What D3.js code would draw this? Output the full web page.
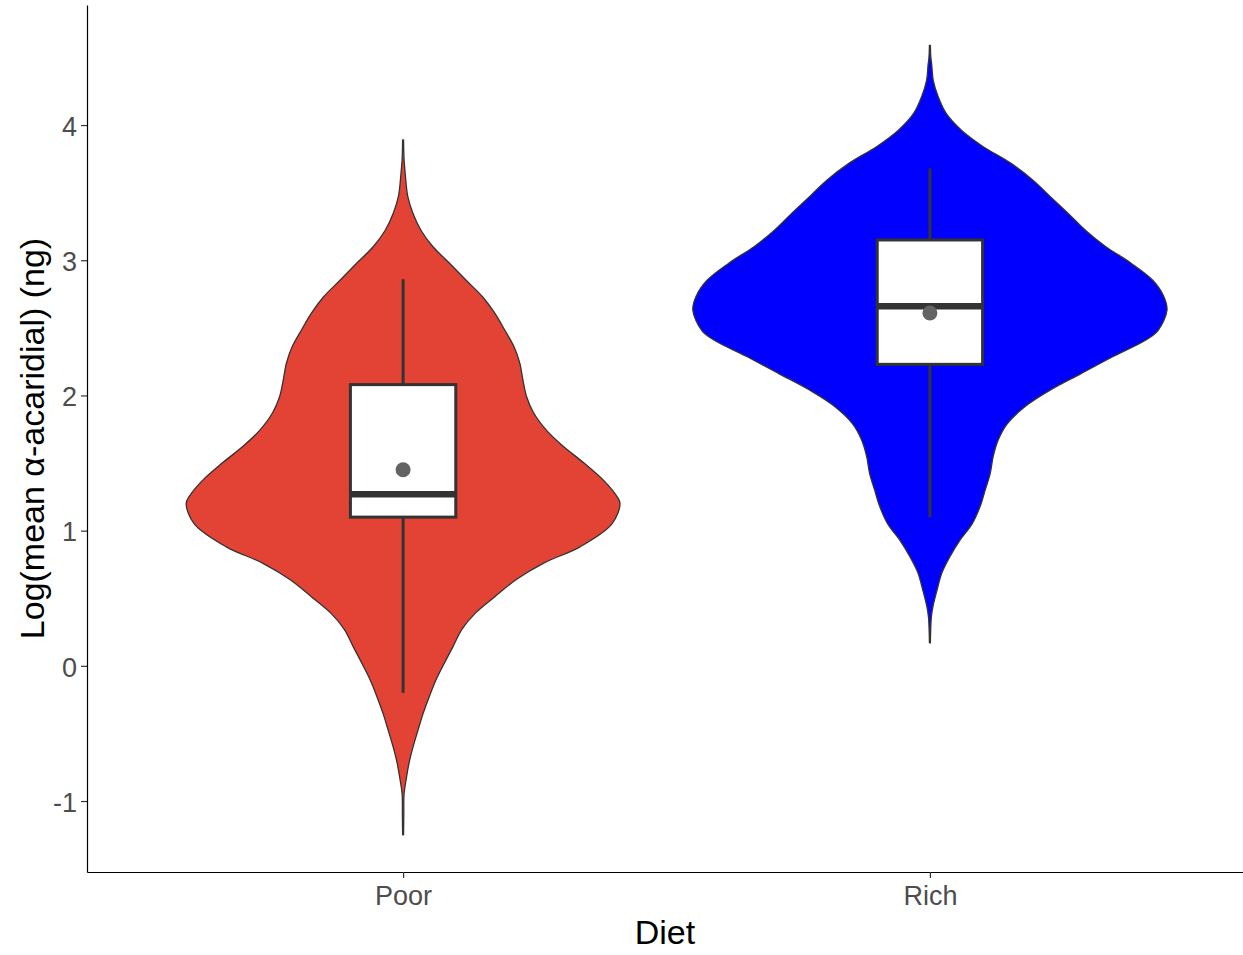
<!DOCTYPE html>
<html>
<head>
<meta charset="utf-8">
<script src="https://cdn.jsdelivr.net/npm/d3@7"></script>
<style>
  html, body { margin: 0; padding: 0; background: #ffffff; }
  svg { display: block; font-family: "Liberation Sans", Arial, sans-serif; }
</style>
</head>
<body>
<svg id="chart" width="1243" height="955"></svg>
<script>
// Diet groups
const categories = ["Poor", "Rich"];
const fillColors = ["#E24334", "#0000FF"];

// Kernel density profiles (log value, relative density)
const poorY = [3.89, 3.75, 3.64, 3.47, 3.35, 3.22, 3.10, 2.98, 2.85, 2.73, 2.61, 2.48, 2.36, 2.24, 2.11, 1.99, 1.87, 1.74, 1.62, 1.50, 1.37, 1.25, 1.20, 1.05, 0.88, 0.76, 0.64, 0.51, 0.39, 0.27, 0.14, 0.02, -0.10, -0.23, -0.35, -0.47, -0.60, -0.72, -0.84, -0.95, -1.10, -1.25];
const poorDensity = [0.002, 0.004, 0.009, 0.020, 0.041, 0.076, 0.126, 0.195, 0.267, 0.335, 0.386, 0.430, 0.468, 0.492, 0.506, 0.521, 0.551, 0.606, 0.678, 0.763, 0.847, 0.903, 0.915, 0.881, 0.746, 0.593, 0.479, 0.386, 0.305, 0.248, 0.210, 0.174, 0.140, 0.110, 0.085, 0.064, 0.042, 0.025, 0.013, 0.004, 0.003, 0.002];

const richY = [4.59, 4.50, 4.44, 4.33, 4.21, 4.08, 3.96, 3.84, 3.72, 3.59, 3.47, 3.35, 3.22, 3.10, 2.98, 2.85, 2.73, 2.63, 2.48, 2.41, 2.29, 2.16, 2.04, 1.92, 1.79, 1.67, 1.55, 1.42, 1.30, 1.18, 1.05, 0.93, 0.81, 0.69, 0.56, 0.44, 0.36, 0.25, 0.17];
const richDensity = [0.002, 0.004, 0.008, 0.014, 0.035, 0.071, 0.134, 0.225, 0.339, 0.436, 0.508, 0.581, 0.657, 0.742, 0.847, 0.941, 0.987, 1.000, 0.962, 0.911, 0.775, 0.636, 0.508, 0.403, 0.326, 0.288, 0.267, 0.254, 0.233, 0.212, 0.178, 0.127, 0.085, 0.051, 0.030, 0.013, 0.006, 0.003, 0.002];

// Box plot summaries per group
const whiskerLow = [-0.20, 1.10];
const q1 = [1.10, 2.23];
const median = [1.27, 2.66];
const q3 = [2.08, 3.15];
const whiskerHigh = [2.86, 3.68];
const means = [1.45, 2.61];

// Axis ticks
const yTicks = [-1, 0, 1, 2, 3, 4];

const profiles = [
  poorY.map((v, i) => ({ v, d: poorDensity[i] })),
  richY.map((v, i) => ({ v, d: richDensity[i] }))
];

const svg = d3.select("#chart");
const panel = { left: 87, right: 1246, top: 5, bottom: 872 };

const x = d3.scalePoint()
  .domain(categories)
  .range([panel.left, panel.right])
  .padding(0.6);

const y = d3.scaleLinear()
  .domain([-1.525, 4.888])
  .range([panel.bottom, panel.top]);

const step = x.step();
const halfWidth = d3.scaleLinear().domain([0, 1]).range([0, 0.45 * step]);
const boxHalf = 0.1 * step;

// Violins
categories.forEach((cat, i) => {
  const cx = x(cat);
  const area = d3.area()
    .y(p => y(p.v))
    .x0(p => cx - halfWidth(p.d))
    .x1(p => cx + halfWidth(p.d))
    .curve(d3.curveCatmullRom.alpha(0.5));
  svg.append("path")
    .datum(profiles[i])
    .attr("d", area)
    .attr("fill", fillColors[i])
    .attr("stroke", "#333333")
    .attr("stroke-width", 1.3)
    .attr("stroke-linejoin", "round");
});

// Boxplots
categories.forEach((cat, i) => {
  const cx = x(cat);
  const g = svg.append("g");
  g.append("line")
    .attr("x1", cx).attr("x2", cx)
    .attr("y1", y(whiskerHigh[i])).attr("y2", y(q3[i]))
    .attr("stroke", "#333333").attr("stroke-width", 3);
  g.append("line")
    .attr("x1", cx).attr("x2", cx)
    .attr("y1", y(q1[i])).attr("y2", y(whiskerLow[i]))
    .attr("stroke", "#333333").attr("stroke-width", 3);
  g.append("rect")
    .attr("x", cx - boxHalf)
    .attr("y", y(q3[i]))
    .attr("width", 2 * boxHalf)
    .attr("height", y(q1[i]) - y(q3[i]))
    .attr("fill", "#ffffff")
    .attr("stroke", "#333333")
    .attr("stroke-width", 3);
  g.append("line")
    .attr("x1", cx - boxHalf).attr("x2", cx + boxHalf)
    .attr("y1", y(median[i])).attr("y2", y(median[i]))
    .attr("stroke", "#333333").attr("stroke-width", 6.5);
  g.append("circle")
    .attr("cx", cx)
    .attr("cy", y(means[i]))
    .attr("r", 7.5)
    .attr("fill", "#636363");
});

// Axes
const yAxis = d3.axisLeft(y)
  .tickValues(yTicks)
  .tickFormat(d => String(d))
  .tickSize(6)
  .tickSizeOuter(0)
  .tickPadding(4);

const yg = svg.append("g")
  .attr("transform", `translate(${panel.left},0)`)
  .call(yAxis);

const xAxis = d3.axisBottom(x)
  .tickSize(6)
  .tickSizeOuter(0)
  .tickPadding(8);

const xg = svg.append("g")
  .attr("transform", `translate(0,${panel.bottom})`)
  .call(xAxis);

[yg, xg].forEach(g => {
  g.select(".domain").attr("stroke", "#000000").attr("stroke-width", 1.2);
  g.selectAll(".tick line").attr("stroke", "#333333").attr("stroke-width", 1.2);
  g.selectAll(".tick text")
    .attr("fill", "#4D4D4D")
    .style("font-size", "27px")
    .style("font-family", "'Liberation Sans', Arial, sans-serif");
});
yg.selectAll(".tick text").attr("dy", "0.38em");

// Axis titles
svg.append("text")
  .attr("x", (panel.left + 1243) / 2)
  .attr("y", 944)
  .attr("text-anchor", "middle")
  .attr("fill", "#000000")
  .style("font-size", "34px")
  .text("Diet");

svg.append("text")
  .attr("transform", `translate(44,${(panel.top + panel.bottom) / 2}) rotate(-90)`)
  .attr("text-anchor", "middle")
  .attr("fill", "#000000")
  .style("font-size", "34px")
  .text("Log(mean α-acaridial) (ng)");
</script>
</body>
</html>
